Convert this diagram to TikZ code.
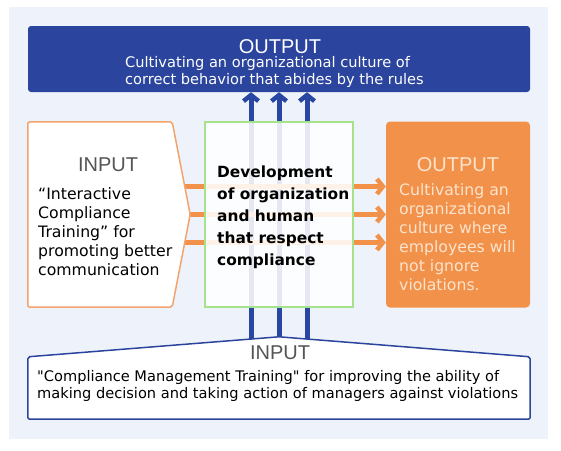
\documentclass[tikz,border=0pt]{standalone}
\usepackage{fontspec}
\setmainfont{DejaVu Sans}
\newfontfamily\headfont{Liberation Sans}
\usetikzlibrary{arrows.meta}

\definecolor{bgblue}{HTML}{EEF3FB}
\definecolor{dkblue}{HTML}{2B449E}
\definecolor{arrowblue}{HTML}{2A46A3}
\definecolor{orangefill}{HTML}{F2914A}
\definecolor{orangeline}{HTML}{F3A46E}
\definecolor{greenline}{HTML}{A6E28C}
\definecolor{titlegray}{HTML}{555555}
\definecolor{peach}{HTML}{FCE3CC}

\pgfdeclarelayer{back}
\pgfdeclarelayer{mid}
\pgfsetlayers{back,mid,main}

\begin{document}
\begin{tikzpicture}
[every node/.style={inner sep=0pt},
 title/.style={font=\headfont\fontsize{20}{24}\selectfont},
 bigtext/.style={font=\fontsize{15.7}{19}\selectfont, align=left, anchor=west},
 smalltext/.style={font=\fontsize{14.6}{17}\selectfont, align=left, anchor=west},
 bluearrow/.style={line width=5pt, color=arrowblue, -{Straight Barb[length=6pt, width=15pt, line width=4.5pt]}},
 orangearrow/.style={line width=5pt, color=orangefill, -{Straight Barb[length=6pt, width=15pt, line width=4.5pt]}}]

\useasboundingbox (0pt, 0pt) rectangle (561pt, -450pt);
\begin{pgfonlayer}{back}
\fill [bgblue] (9pt, -7pt) rectangle (548pt, -439pt);
\end{pgfonlayer}

\node (culture) [rectangle, minimum width=502pt, minimum height=66pt, fill=dkblue, rounded corners=3pt] at (279pt, -59pt) {};
\node (icTrain) [rectangle, minimum width=144pt, minimum height=185pt] at (100pt, -214.5pt) {};
\node (devel) [rectangle, minimum width=148pt, minimum height=185pt, fill=white, fill opacity=0.88, draw=greenline, line width=1.5pt] at (279pt, -214.5pt) {};
\node (noIgnore) [rectangle, minimum width=144pt, minimum height=186pt, fill=orangefill, rounded corners=4pt] at (458pt, -214.5pt) {};
\node (mgmt) [rectangle, minimum width=502pt, minimum height=62pt] at (279pt, -388pt) {};

\begin{pgfonlayer}{mid}
\foreach \dx in {-28,0,28}
  \draw [bluearrow] ([xshift=\dx pt]mgmt.north) to ([xshift=\dx pt]culture.south);
\foreach \dy in {28,0,-28}
  \draw [orangearrow] ([yshift=\dy pt]icTrain.east) to ([yshift=\dy pt]noIgnore.west);
\end{pgfonlayer}

% pentagon outlines of the two input boxes
\draw [fill=white, draw=orangeline, line width=1.5pt, rounded corners=2pt] (icTrain.north west) -- (icTrain.north east) -- ([xshift=18pt]icTrain.east) -- (icTrain.south east) -- (icTrain.south west) -- cycle;
\draw [fill=white, draw=dkblue, line width=1.5pt, rounded corners=2pt] (mgmt.north west) -- ([yshift=20pt]mgmt.north) -- (mgmt.north east) -- (mgmt.south east) -- (mgmt.south west) -- cycle;

\node (cultureTitle) [title, text=white] at (280pt, -46.5pt) {OUTPUT};
\node (cultureText) [smalltext, text=white] at (125pt, -71.7pt) {Cultivating an organizational culture of\\correct behavior that abides by the rules};
\node (icTitle) [title, text=titlegray] at (108pt, -165pt) {INPUT};
\node (icText) [bigtext, text=black] at (38pt, -231.3pt) {``Interactive\\Compliance\\Training'' for\\promoting better\\communication};
\node (develText) [bigtext, font=\bfseries\fontsize{15.4}{22}\selectfont, text=black] at (217pt, -217.3pt) {Development\\of organization\\and human\\that respect\\compliance};
\node (noTitle) [title, text=peach] at (458pt, -165pt) {OUTPUT};
\node (noText) [bigtext, text=peach] at (399pt, -236.8pt) {Cultivating an\\organizational\\culture where\\employees will\\not ignore\\violations.};
\node (mgmtTitle) [title, text=titlegray] at (280pt, -353pt) {INPUT};
\node (mgmtText) [smalltext, text=black] at (37pt, -386.2pt) {\textquotedbl Compliance Management Training\textquotedbl{} for improving the ability of\\making decision and taking action of managers against violations};

\end{tikzpicture}
\end{document}
